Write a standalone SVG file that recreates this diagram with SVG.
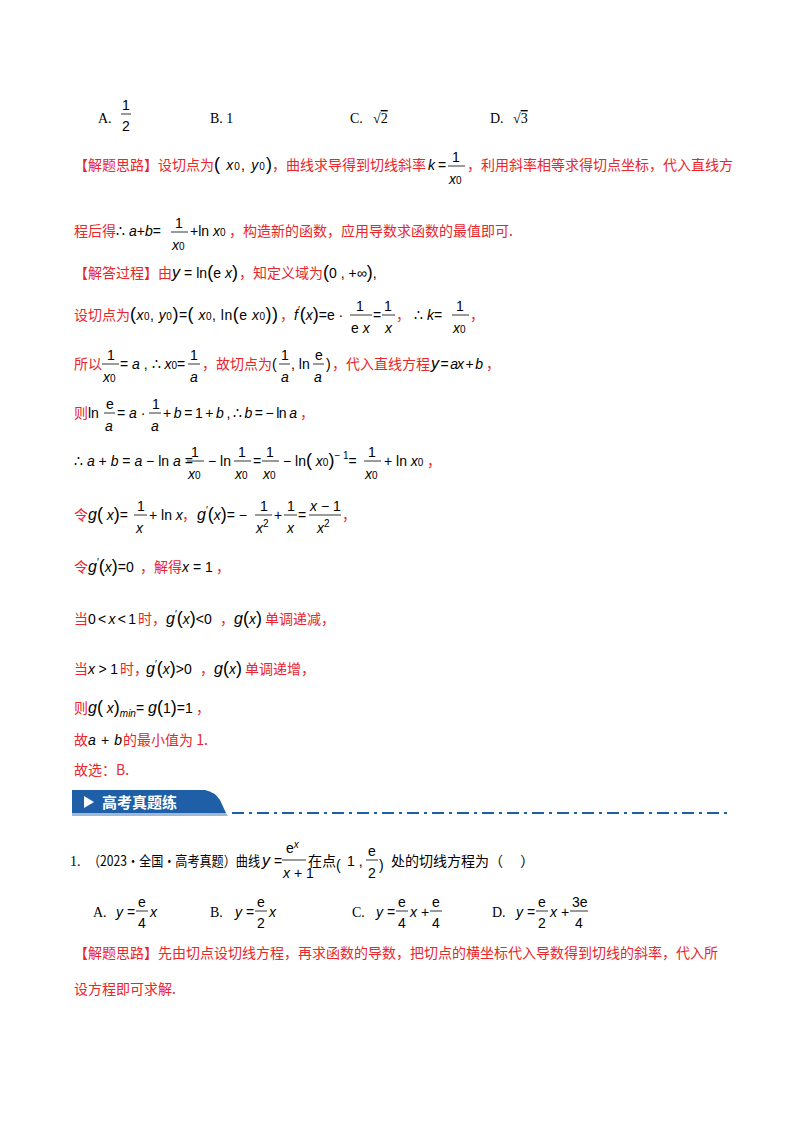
<svg xmlns="http://www.w3.org/2000/svg" width="800" height="1132" viewBox="0 0 800 1132">
<style>
text{font-family:"Liberation Serif","Noto Sans CJK SC",serif;font-size:14px;fill:#000}
.r{fill:#e8262b;font-family:"Noto Sans CJK SC",sans-serif}
.k{fill:#000;font-family:"Noto Sans CJK SC",sans-serif}
.i{font-family:"Liberation Sans",sans-serif;font-style:italic}
.s{font-family:"Liberation Sans",sans-serif}
.sm{font-size:10px}
.fl{stroke:#000;stroke-width:0.8}
</style>
<rect width="800" height="1132" fill="#fff"/>
<g id="options1">
<text x="98" y="123">A.</text><text x="122" y="110" class="s">1</text><line class="fl" x1="121" y1="114" x2="131" y2="114"/><text x="122" y="131" class="s">2</text>
<text x="210" y="123">B.  1</text>
<text x="350" y="123">C.</text><text x="373" y="123">√<tspan text-decoration="overline">2</tspan></text>
<text x="490" y="123">D.</text><text x="513" y="123">√<tspan text-decoration="overline">3</tspan></text>
</g>
<g id="solution1">
<text x="74" y="170" class="r">【解题思路】设切点为</text>
<text x="214" y="170" class="s" textLength="58"><tspan font-size="18">(</tspan> <tspan class="i">x</tspan><tspan class="sm">0</tspan>, <tspan class="i">y</tspan><tspan class="sm">0</tspan><tspan font-size="18">)</tspan></text>
<text x="272" y="170" class="r">，曲线求导得到切线斜率</text>
<text x="428" y="170" class="i" font-size="16">k</text><text x="438" y="170" class="s">=</text>
<text x="452" y="162" class="s" font-size="16">1</text><line class="fl" x1="448" y1="166" x2="465" y2="166"/><text x="449" y="184" class="i">x<tspan class="sm" font-style="normal">0</tspan></text>
<text x="467" y="170" class="r">，利用斜率相等求得切点坐标，代入直线方</text>

<text x="74" y="236" class="r">程后得</text>
<text x="116" y="236" class="s">∴ <tspan class="i">a</tspan>+<tspan class="i">b</tspan>=</text>
<text x="175" y="228" class="s" font-size="16">1</text><line class="fl" x1="171" y1="232" x2="188" y2="232"/><text x="172" y="250" class="i">x<tspan class="sm" font-style="normal">0</tspan></text>
<text x="190" y="236" class="s">+ln <tspan class="i">x</tspan><tspan class="sm">0</tspan></text>
<text x="229" y="236" class="r">，构造新的函数，应用导数求函数的最值即可.</text>

<text x="74" y="278" class="r">【解答过程】由</text>
<text x="172" y="278" class="s" textLength="66"><tspan class="i" font-size="16">y</tspan> = ln<tspan font-size="18">(</tspan>e <tspan class="i">x</tspan><tspan font-size="18">)</tspan></text>
<text x="239" y="278" class="r">，知定义域为</text>
<text x="323" y="278" class="s"><tspan font-size="18">(</tspan>0 , +∞<tspan font-size="18">)</tspan>,</text>

<text x="74" y="320" class="r">设切点为</text>
<text x="130" y="320" class="s" textLength="148"><tspan font-size="18">(</tspan><tspan class="i">x</tspan><tspan class="sm">0</tspan>, <tspan class="i">y</tspan><tspan class="sm">0</tspan><tspan font-size="18">)</tspan>=<tspan font-size="18">(</tspan> <tspan class="i">x</tspan><tspan class="sm">0</tspan>, ln<tspan font-size="18">(</tspan>e <tspan class="i">x</tspan><tspan class="sm">0</tspan><tspan font-size="18">))</tspan></text>
<text x="280" y="320" class="r">，</text>
<text x="294" y="320" class="s"><tspan class="i">f</tspan><tspan class="sm" dy="-6">′</tspan><tspan dy="6" font-size="18">(</tspan><tspan class="i">x</tspan><tspan font-size="18">)</tspan>=e ·</text>
<text x="356" y="311" class="s" font-size="16">1</text><line class="fl" x1="350" y1="315" x2="372" y2="315"/><text x="351" y="333" class="s">e <tspan class="i">x</tspan></text>
<text x="373" y="320" class="s">=</text>
<text x="384" y="311" class="s" font-size="16">1</text><line class="fl" x1="382" y1="315" x2="395" y2="315"/><text x="385" y="333" class="i">x</text>
<text x="396" y="320" class="r">，</text>
<text x="414" y="320" class="s">∴ <tspan class="i">k</tspan>=</text>
<text x="456" y="311" class="s" font-size="16">1</text><line class="fl" x1="452" y1="315" x2="469" y2="315"/><text x="453" y="333" class="i">x<tspan class="sm" font-style="normal">0</tspan></text>
<text x="470" y="320" class="r">，</text>

<text x="74" y="369" class="r">所以</text>
<text x="107" y="360" class="s" font-size="16">1</text><line class="fl" x1="102" y1="364" x2="119" y2="364"/><text x="103" y="382" class="i">x<tspan class="sm" font-style="normal">0</tspan></text>
<text x="120" y="369" class="s">= <tspan class="i">a</tspan> , ∴ <tspan class="i">x</tspan><tspan class="sm">0</tspan>=</text>
<text x="190" y="360" class="s" font-size="16">1</text><line class="fl" x1="188" y1="364" x2="200" y2="364"/><text x="190" y="382" class="i">a</text>
<text x="202" y="369" class="r">，故切点为</text>
<text x="272" y="369" class="s" font-size="18">(</text>
<text x="281" y="360" class="s" font-size="16">1</text><line class="fl" x1="279" y1="364" x2="290" y2="364"/><text x="281" y="382" class="i">a</text>
<text x="291" y="369" class="s">, ln</text>
<text x="315" y="360" class="s">e</text><line class="fl" x1="313" y1="364" x2="324" y2="364"/><text x="314" y="382" class="i">a</text>
<text x="326" y="369" class="s" font-size="18">)</text>
<text x="332" y="369" class="r">，代入直线方程</text>
<text x="431" y="369" class="s" textLength="52"><tspan class="i" font-size="16">y</tspan> = <tspan class="i">ax</tspan> + <tspan class="i">b</tspan></text>
<text x="486" y="369" class="r">，</text>

<text x="74" y="418" class="r">则</text>
<text x="88" y="418" class="s">ln</text>
<text x="106" y="409" class="s">e</text><line class="fl" x1="104" y1="413" x2="115" y2="413"/><text x="105" y="431" class="i">a</text>
<text x="117" y="418" class="s">= <tspan class="i">a</tspan>  ·</text>
<text x="152" y="409" class="s" font-size="16">1</text><line class="fl" x1="149" y1="413" x2="161" y2="413"/><text x="151" y="431" class="i">a</text>
<text x="163" y="418" class="s" textLength="134">+ <tspan class="i">b</tspan> = 1 + <tspan class="i">b</tspan> , ∴ <tspan class="i">b</tspan> = − ln <tspan class="i">a</tspan></text>
<text x="300" y="418" class="r">，</text>

<text x="74" y="466" class="s">∴ <tspan class="i">a</tspan> + <tspan class="i">b</tspan> = <tspan class="i">a</tspan> − ln <tspan class="i">a</tspan> =</text>
<text x="191" y="457" class="s" font-size="16">1</text><line class="fl" x1="187" y1="461" x2="204" y2="461"/><text x="188" y="479" class="i">x<tspan class="sm" font-style="normal">0</tspan></text>
<text x="208" y="466" class="s">− ln</text>
<text x="238" y="457" class="s" font-size="16">1</text><line class="fl" x1="234" y1="461" x2="251" y2="461"/><text x="235" y="479" class="i">x<tspan class="sm" font-style="normal">0</tspan></text>
<text x="253" y="466" class="s">=</text>
<text x="266" y="457" class="s" font-size="16">1</text><line class="fl" x1="262" y1="461" x2="279" y2="461"/><text x="263" y="479" class="i">x<tspan class="sm" font-style="normal">0</tspan></text>
<text x="283" y="466" class="s">− ln<tspan font-size="18">(</tspan> <tspan class="i">x</tspan><tspan class="sm">0</tspan><tspan font-size="18">)</tspan><tspan class="sm" dy="-7">− 1</tspan><tspan dy="7">=</tspan></text>
<text x="368" y="457" class="s" font-size="16">1</text><line class="fl" x1="364" y1="461" x2="381" y2="461"/><text x="365" y="479" class="i">x<tspan class="sm" font-style="normal">0</tspan></text>
<text x="384" y="466" class="s">+ ln <tspan class="i">x</tspan><tspan class="sm">0</tspan></text>
<text x="427" y="466" class="r">，</text>

<text x="74" y="520" class="r">令</text>
<text x="88" y="520" class="s"><tspan class="i" font-size="16">g</tspan><tspan font-size="18">(</tspan> <tspan class="i">x</tspan><tspan font-size="18">)</tspan>=</text>
<text x="137" y="511" class="s" font-size="16">1</text><line class="fl" x1="134" y1="515" x2="147" y2="515"/><text x="136" y="533" class="i">x</text>
<text x="149" y="520" class="s">+ ln <tspan class="i">x</tspan></text>
<text x="182" y="520" class="r">，</text>
<text x="197" y="520" class="s"><tspan class="i" font-size="16">g</tspan><tspan class="sm" dy="-6">′</tspan><tspan dy="6" font-size="18">(</tspan><tspan class="i">x</tspan><tspan font-size="18">)</tspan>= −</text>
<text x="260" y="511" class="s" font-size="16">1</text><line class="fl" x1="255" y1="515" x2="272" y2="515"/><text x="256" y="533" class="i">x<tspan class="sm" font-style="normal" dy="-6">2</tspan></text>
<text x="274" y="520" class="s">+</text>
<text x="287" y="511" class="s" font-size="16">1</text><line class="fl" x1="284" y1="515" x2="297" y2="515"/><text x="287" y="533" class="i">x</text>
<text x="298" y="520" class="s">=</text>
<text x="310" y="511" class="s"><tspan class="i">x</tspan> − 1</text><line class="fl" x1="309" y1="515" x2="341" y2="515"/><text x="317" y="533" class="i">x<tspan class="sm" font-style="normal" dy="-6">2</tspan></text>
<text x="342" y="520" class="r">，</text>

<text x="74" y="572" class="r">令</text>
<text x="88" y="572" class="s"><tspan class="i" font-size="16">g</tspan><tspan class="sm" dy="-6">′</tspan><tspan dy="6" font-size="18">(</tspan><tspan class="i">x</tspan><tspan font-size="18">)</tspan>=0</text>
<text x="140" y="572" class="r">，解得</text>
<text x="182" y="572" class="s"><tspan class="i">x</tspan> = 1</text>
<text x="216" y="572" class="r">，</text>

<text x="74" y="624" class="r">当</text>
<text x="88" y="624" class="s" textLength="48">0 &lt; <tspan class="i">x</tspan> &lt; 1</text>
<text x="138" y="624" class="r">时，</text>
<text x="166" y="624" class="s"><tspan class="i" font-size="16">g</tspan><tspan class="sm" dy="-6">′</tspan><tspan dy="6" font-size="18">(</tspan><tspan class="i">x</tspan><tspan font-size="18">)</tspan>&lt;0</text>
<text x="220" y="624" class="r">，</text>
<text x="234" y="624" class="s"><tspan class="i" font-size="16">g</tspan><tspan font-size="18">(</tspan><tspan class="i">x</tspan><tspan font-size="18">)</tspan></text>
<text x="265" y="624" class="r">单调递减，</text>

<text x="74" y="674" class="r">当</text>
<text x="88" y="674" class="s" textLength="30"><tspan class="i">x</tspan> &gt; 1</text>
<text x="120" y="674" class="r">时，</text>
<text x="146" y="674" class="s"><tspan class="i" font-size="16">g</tspan><tspan class="sm" dy="-6">′</tspan><tspan dy="6" font-size="18">(</tspan><tspan class="i">x</tspan><tspan font-size="18">)</tspan>&gt;0</text>
<text x="200" y="674" class="r">，</text>
<text x="214" y="674" class="s"><tspan class="i" font-size="16">g</tspan><tspan font-size="18">(</tspan><tspan class="i">x</tspan><tspan font-size="18">)</tspan></text>
<text x="245" y="674" class="r">单调递增，</text>

<text x="74" y="713" class="r">则</text>
<text x="88" y="713" class="s"><tspan class="i" font-size="16">g</tspan><tspan font-size="18">(</tspan> <tspan class="i">x</tspan><tspan font-size="18">)</tspan><tspan class="i sm" dy="4">min</tspan><tspan dy="-4">= </tspan><tspan class="i" font-size="16">g</tspan><tspan font-size="18">(</tspan>1<tspan font-size="18">)</tspan>=1</text>
<text x="196" y="713" class="r">，</text>

<text x="74" y="745" class="r">故</text>
<text x="88" y="745" class="s" textLength="34"><tspan class="i">a</tspan> + <tspan class="i">b</tspan></text>
<text x="123" y="745" class="r">的最小值为 1.</text>
<text x="74" y="775" class="r">故选：B.</text>
</g>
<g id="banner">
<path d="M72 790 L205 790 Q215 792 220 800 L226 813 L72 813 Z" fill="#1f5fa8"/>
<path d="M72 813 L226 813 L228 816 L72 816 Z" fill="#9fb8d6"/>
<polygon points="84,796 84,808 94,802" fill="#fff"/>
<text x="102" y="808" style="font-family:'Noto Sans CJK SC',sans-serif;font-weight:bold;font-size:15px;fill:#fff">高考真题练</text>
<line x1="232" y1="813" x2="728" y2="813" stroke="#1f5fa8" stroke-width="2" stroke-dasharray="12,5,3,5"/>
</g>
<g id="question1">
<text x="70" y="866">1.</text>
<text x="88" y="866" class="k" textLength="172" lengthAdjust="spacingAndGlyphs">（2023·全国·高考真题）曲线</text>
<text x="262" y="866" class="s"><tspan class="i" font-size="16">y</tspan> =</text>
<text x="286" y="853" class="s">e<tspan class="i sm" dy="-5">x</tspan></text><line class="fl" x1="282" y1="860" x2="306" y2="860"/><text x="283" y="878" class="s"><tspan class="i">x</tspan> + 1</text>
<text x="308" y="866" class="k">在点</text>
<text x="336" y="870" class="s" font-size="30">(</text>
<text x="347" y="866" class="s" font-size="16">1 ,</text>
<text x="368" y="856" class="s">e</text><line class="fl" x1="366" y1="860" x2="378" y2="860"/><text x="368" y="878" class="s">2</text>
<text x="379" y="870" class="s" font-size="30">)</text>
<text x="391" y="866" class="k">处的切线方程为（　 ）</text>

<text x="93" y="917">A.</text><text x="116" y="917" class="s"><tspan class="i">y</tspan> =</text>
<text x="138" y="907" class="s">e</text><line class="fl" x1="136" y1="911" x2="148" y2="911"/><text x="138" y="928" class="s">4</text><text x="150" y="917" class="i">x</text>
<text x="210" y="917">B.</text><text x="235" y="917" class="s"><tspan class="i">y</tspan> =</text>
<text x="257" y="907" class="s">e</text><line class="fl" x1="255" y1="911" x2="267" y2="911"/><text x="257" y="928" class="s">2</text><text x="269" y="917" class="i">x</text>
<text x="352" y="917">C.</text><text x="376" y="917" class="s"><tspan class="i">y</tspan> =</text>
<text x="398" y="907" class="s">e</text><line class="fl" x1="396" y1="911" x2="408" y2="911"/><text x="398" y="928" class="s">4</text><text x="410" y="917" class="s"><tspan class="i">x</tspan> +</text>
<text x="432" y="907" class="s">e</text><line class="fl" x1="430" y1="911" x2="442" y2="911"/><text x="432" y="928" class="s">4</text>
<text x="492" y="917">D.</text><text x="516" y="917" class="s"><tspan class="i">y</tspan> =</text>
<text x="538" y="907" class="s">e</text><line class="fl" x1="536" y1="911" x2="548" y2="911"/><text x="538" y="928" class="s">2</text><text x="550" y="917" class="s"><tspan class="i">x</tspan> +</text>
<text x="572" y="907" class="s">3e</text><line class="fl" x1="570" y1="911" x2="588" y2="911"/><text x="575" y="928" class="s">4</text>

<text x="74" y="958" class="r">【解题思路】先由切点设切线方程，再求函数的导数，把切点的横坐标代入导数得到切线的斜率，代入所</text>
<text x="74" y="994" class="r">设方程即可求解.</text>
</g>
</svg>
